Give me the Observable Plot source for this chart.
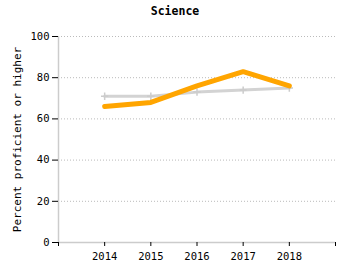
<!DOCTYPE html>
<html>
<head>
<meta charset="utf-8">
<script src="https://cdn.jsdelivr.net/npm/d3@7"></script>
<script src="https://cdn.jsdelivr.net/npm/@observablehq/plot@0.6"></script>
<style>
  html, body { margin: 0; padding: 0; background: #fff; }
  #wrap { position: relative; width: 350px; height: 275px; }
  #title { position: absolute; top: 4px; left: 0; width: 350px; text-align: center;
           font: bold 11.5px "DejaVu Sans Mono", monospace; color: #000; }
  svg { display: block; }
</style>
</head>
<body>
<div id="wrap"><div id="title">Science</div></div>
<script>
const years = [2014, 2015, 2016, 2017, 2018];
const schoolValues = [66, 68, 76, 83, 76];
const comparisonValues = [71, 71, 73, 74, 75];
const yTicks = [0, 20, 40, 60, 80, 100];
const xTicks = [2013, 2014, 2015, 2016, 2017, 2018, 2019];
const title = "Science";
const yLabel = "Percent proficient or higher";

const school = years.map((y, i) => ({year: y, value: schoolValues[i]}));
const comparison = years.map((y, i) => ({year: y, value: comparisonValues[i]}));

const chart = Plot.plot({
  width: 350,
  height: 275,
  marginTop: 36,
  marginBottom: 33,
  marginLeft: 58,
  marginRight: 15,
  style: {fontFamily: "'DejaVu Sans Mono', monospace", fontSize: "10.5px", color: "#000", background: "#fff"},
  x: {domain: [2013, 2019]},
  y: {domain: [0, 100]},
  marks: [
    Plot.gridY(yTicks, {stroke: "#bbb", strokeOpacity: 1, strokeDasharray: "1,2"}),
    Plot.ruleY([0], {stroke: "#ccc", strokeWidth: 1.5}),
    Plot.ruleX([2013], {stroke: "#ccc", strokeWidth: 1.5}),
    Plot.axisY(yTicks, {tickSize: 6, tickPadding: 3, label: null, stroke: "#000"}),
    Plot.axisX(xTicks, {tickSize: 4, tickPadding: 6, label: null,
      tickFormat: d => (d >= 2014 && d <= 2018) ? String(d) : ""}),
    Plot.line(comparison, {x: "year", y: "value", stroke: "#d3d3d3", strokeWidth: 3}),
    Plot.dot(comparison, {x: "year", y: "value", symbol: "plus", r: 2.5, stroke: "#ccc", strokeWidth: 1.5}),
    Plot.line(school, {x: "year", y: "value", stroke: "#ffa500", strokeWidth: 5, strokeLinejoin: "miter", strokeLinecap: "round"}),
    Plot.text([yLabel], {frameAnchor: "left", dx: -41, rotate: -90, fontSize: 11, textAnchor: "middle", fill: "#000"})
  ]
});
document.getElementById("wrap").appendChild(chart);
</script>
</body>
</html>
